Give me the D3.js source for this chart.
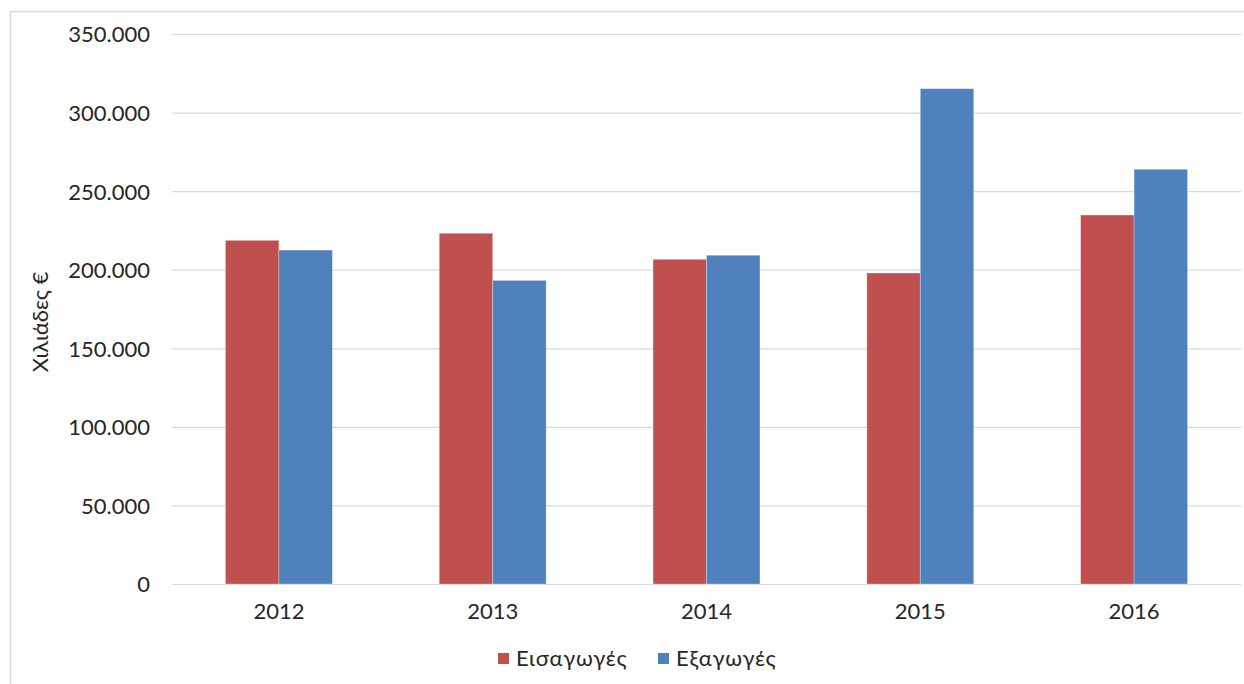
<!DOCTYPE html>
<html>
<head>
<meta charset="utf-8">
<script src="https://cdn.jsdelivr.net/npm/d3@7"></script>
<style>
    body { margin: 0; background: #fff; }
    text { font-family: "Century Gothic", "URW Gothic", Lato, sans-serif; fill: #262626; }
</style>
</head>
<body>
<div id="chart"></div>
<script>
var years = ["2012", "2013", "2014", "2015", "2016"];
var seriesNames = ["Εισαγωγές", "Εξαγωγές"];
var imports = [218700, 223200, 206600, 197900, 234800];
var exports = [212500, 193200, 209200, 315200, 263900];
var yTicks = [0, 50000, 100000, 150000, 200000, 250000, 300000, 350000];
var colors = ["#C0504D", "#4F81BD"];

var width = 1244,
    height = 684,
    plot = {left: 172, right: 1241, top: 34, bottom: 584};

var svg = d3.select("#chart").append("svg")
    .attr("width", width)
    .attr("height", height);

// chart border
svg.append("rect")
    .attr("x", 10.5)
    .attr("y", 11.5)
    .attr("width", 1240)
    .attr("height", 700)
    .style("fill", "none")
    .style("stroke", "#D9D9D9")
    .style("stroke-width", 1.5);

var x = d3.scaleBand()
    .domain(years)
    .range([plot.left, plot.right])
    .paddingInner(0)
    .paddingOuter(0);

var barW = x.bandwidth() / 4;

var x1 = d3.scaleBand()
    .domain(seriesNames)
    .range([x.bandwidth() / 2 - barW, x.bandwidth() / 2 + barW]);

var y = d3.scaleLinear()
    .domain([0, 350000])
    .range([plot.bottom, plot.top]);

var fmt = function(v){
    return d3.format(",")(v).replace(/,/g, ".");
};

//gridlines + y labels
var yAxis = svg.append("g")
    .attr("transform", "translate(" + plot.left + ",0)")
    .call(d3.axisLeft(y).tickValues(yTicks).tickFormat(fmt)
        .tickSize(-(plot.right - plot.left)).tickPadding(22));
yAxis.select(".domain").remove();
yAxis.selectAll(".tick line")
    .style("stroke", "#D9D9D9")
    .style("stroke-width", 1.2);
yAxis.selectAll(".tick text")
    .attr("font-size", "22px")
    .attr("font-family", null)
    .attr("fill", null)
    .attr("dy", "0.36em");

// bars
var rows = years.map(function(yr, i){
    return {year: yr, values: [imports[i], exports[i]]};
});

var groups = svg.selectAll("g.year")
    .data(rows).enter()
    .append("g")
    .attr("class", "year")
    .attr("transform", function(d){ return "translate(" + x(d.year) + ",0)"; });

groups.selectAll("rect")
    .data(function(d){ return d.values.map(function(v, j){ return {name: seriesNames[j], value: v, j: j}; }); })
    .enter()
    .append("rect")
    .attr("x", function(d){ return x1(d.name); })
    .attr("y", function(d){ return y(d.value); })
    .attr("width", x1.bandwidth())
    .attr("height", function(d){ return y(0) - y(d.value); })
    .style("fill", function(d){ return colors[d.j]; })
    .style("stroke", "#fff")
    .style("stroke-opacity", 0.35)
    .style("stroke-width", 0.8);

// x labels
var xAxis = svg.append("g")
    .attr("transform", "translate(0," + plot.bottom + ")")
    .call(d3.axisBottom(x).tickSize(0).tickPadding(19));
xAxis.select(".domain").remove();
xAxis.selectAll(".tick text")
    .attr("font-size", "22px")
    .attr("font-family", null)
    .attr("fill", null);

// y title
svg.append("text")
    .attr("transform", "translate(48,322) rotate(-90)")
    .attr("text-anchor", "middle")
    .attr("font-size", "22px")
    .text("Χιλιάδες €");

// legend
var legendX = [498, 658];
seriesNames.forEach(function(name, i){
    svg.append("rect")
        .attr("x", legendX[i])
        .attr("y", 653)
        .attr("width", 11)
        .attr("height", 11)
        .style("fill", colors[i]);
    svg.append("text")
        .attr("x", legendX[i] + 18)
        .attr("y", 666)
        .attr("font-size", "22px")
        .attr("letter-spacing", "0.8px")
        .text(name);
});
</script>
</body>
</html>
